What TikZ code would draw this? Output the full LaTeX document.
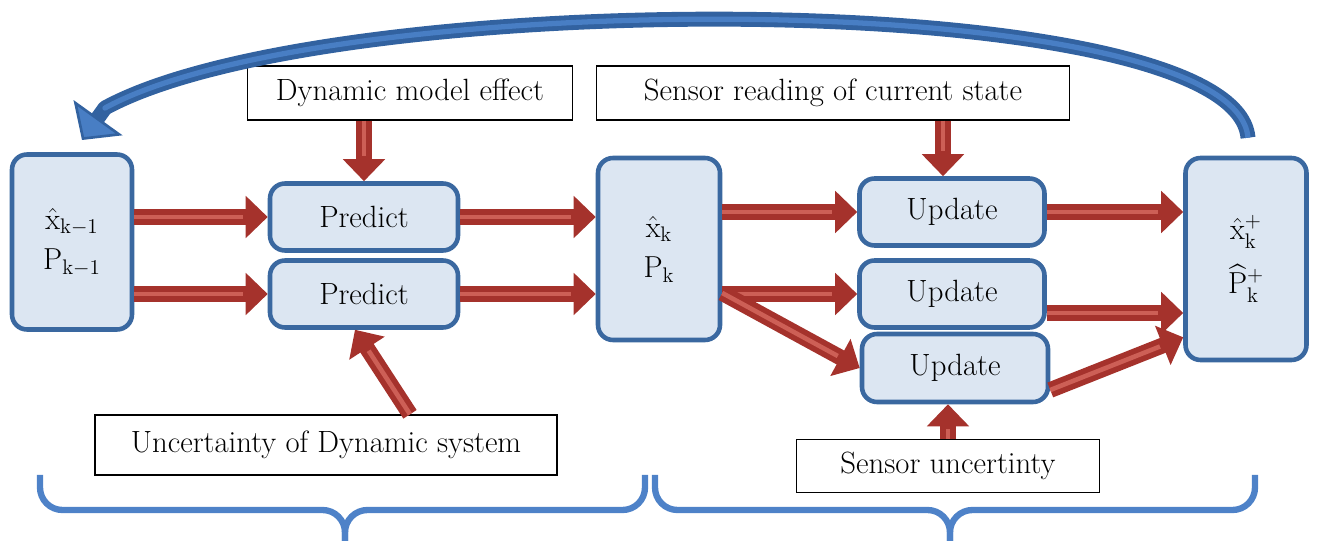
\documentclass[tikz,border=0pt]{standalone}
\usepackage{amsmath}
\usetikzlibrary{arrows.meta}

\definecolor{boxfill}{RGB}{220,230,242}
\definecolor{boxline}{RGB}{58,104,160}
\definecolor{flowred}{RGB}{165,50,44}
\definecolor{flowlight}{RGB}{205,95,86}
\definecolor{loopblue}{RGB}{50,98,160}
\definecolor{looplight}{RGB}{72,126,196}
\definecolor{braceblue}{RGB}{78,130,200}

\tikzset{
	statebox/.style={rectangle, rounded corners=0.3cm, draw=boxline, line width=2.6pt,
		fill=boxfill, text=black, align=center, font=\fontsize{17.5}{21}\selectfont},
	notebox/.style={rectangle, draw=black, line width=0.8pt, fill=white, text=black,
		align=center, font=\fontsize{17.5}{21}\selectfont},
	flow/.style={draw=flowred, line width=9pt,
		-{Triangle[width=0.82cm,length=0.44cm]},
		postaction={draw=flowlight, line width=2.6pt, shorten >=0.5cm, -}},
	loop/.style={draw=loopblue, line width=8.5pt, line join=round,
		-{Triangle[width=1.2cm,length=0.55cm,fill=looplight,line width=1.5pt]},
		postaction={draw=looplight, line width=3pt, shorten >=0.8cm, -}},
	bracket/.style={draw=braceblue, line width=3.6pt, rounded corners=0.45cm}
}

\begin{document}
\begin{tikzpicture}
	
	\useasboundingbox (0,0) rectangle (26.34,10.82);
	
	% state boxes
	\node[statebox, minimum width=2.4cm, minimum height=3.5cm] (prev) at (1.44cm,5.98cm)
	{$\hat{\mathrm{x}}_{\mathrm{k-1}}$\\[2pt] $\mathrm{P}_{\mathrm{k-1}}$};
	\node[statebox, minimum width=2.44cm, minimum height=3.64cm] (prior) at (13.18cm,5.84cm)
	{$\hat{\mathrm{x}}_{\mathrm{k}}$\\[2pt] $\mathrm{P}_{\mathrm{k}}$};
	\node[statebox, minimum width=2.42cm, minimum height=4.04cm] (post) at (24.92cm,5.64cm)
	{$\hat{\mathrm{x}}^{+}_{\mathrm{k}}$\\[8pt] $\widehat{\mathrm{P}}^{+}_{\mathrm{k}}$};
	
	% predict and update steps
	\node[statebox, minimum width=3.76cm, minimum height=1.34cm] (pred1) at (7.28cm,6.48cm) {Predict};
	\node[statebox, minimum width=3.76cm, minimum height=1.34cm] (pred2) at (7.28cm,4.94cm) {Predict};
	\node[statebox, minimum width=3.7cm, minimum height=1.34cm] (upd1) at (19.04cm,6.58cm) {Update};
	\node[statebox, minimum width=3.7cm, minimum height=1.34cm] (upd2) at (19.04cm,4.94cm) {Update};
	\node[statebox, minimum width=3.72cm, minimum height=1.36cm] (upd3) at (19.10cm,3.46cm) {Update};
	
	% inputs
	\node[notebox, minimum width=6.5cm, minimum height=1.08cm] (model) at (8.2cm,8.96cm) {Dynamic model effect};
	\node[notebox, minimum width=9.46cm, minimum height=1.08cm] (reading) at (16.66cm,8.96cm) {Sensor reading of current state};
	\node[notebox, minimum width=9.24cm, minimum height=1.2cm] (sysnoise) at (6.52cm,1.92cm) {Uncertainty of Dynamic system};
	\node[notebox, minimum width=6.06cm, minimum height=1.06cm] (sensnoise) at (18.96cm,1.5cm) {Sensor uncertinty};
	
	% predict stage
	\draw[flow] (prev.east |- pred1.west) to (pred1.west);
	\draw[flow] (prev.east |- pred2.west) to (pred2.west);
	\draw[flow] (pred1.east) to (prior.west |- pred1.east);
	\draw[flow] (pred2.east) to (prior.west |- pred2.east);
	\draw[flow] (pred1.north |- model.south) to (pred1.north);
	\draw[flow] ([xshift=1.68cm]sysnoise.north) to ([xshift=-0.18cm]pred2.south);
	
	% update stage
	\draw[flow] (prior.east |- upd1.west) to (upd1.west);
	\draw[flow] (prior.east |- upd2.west) to (upd2.west);
	\draw[flow] ([yshift=-0.88cm]prior.east) to (upd3.west);
	\draw[flow] ([xshift=-0.18cm]upd1.north |- reading.south) to ([xshift=-0.18cm]upd1.north);
	\draw[flow] (sensnoise.north) to (sensnoise.north |- upd3.south);
	\draw[flow] (upd1.east) to (post.west |- upd1.east);
	\draw[flow] ([yshift=-0.38cm]upd2.east) to ([yshift=-0.38cm]post.west |- upd2.east);
	\draw[flow] ([yshift=-0.44cm]upd3.east) to ([yshift=0.5cm]post.south west);
	
	% feedback loop
	\coordinate (loopstart) at ([xshift=0.04cm,yshift=0.36cm]post.north);
	\coordinate (loopbend) at (2.1cm,8.66cm);
	\coordinate (loopend) at (1.64cm,8.02cm);
	\draw[loop] (loopstart) .. controls (24.7cm,11.12cm) and (6.6cm,11.12cm) .. (loopbend) -- (loopend);
	
	% stage braces
	\draw[bracket] (0.8cm,1.32cm) |- (6.9cm,0.62cm) -- (6.9cm,-0.2cm);
	\draw[bracket] (12.9cm,1.32cm) |- (6.9cm,0.62cm) -- (6.9cm,-0.2cm);
	\draw[bracket] (13.1cm,1.32cm) |- (19.0cm,0.62cm) -- (19.0cm,-0.2cm);
	\draw[bracket] (25.1cm,1.32cm) |- (19.0cm,0.62cm) -- (19.0cm,-0.2cm);
	
\end{tikzpicture}
\end{document}
